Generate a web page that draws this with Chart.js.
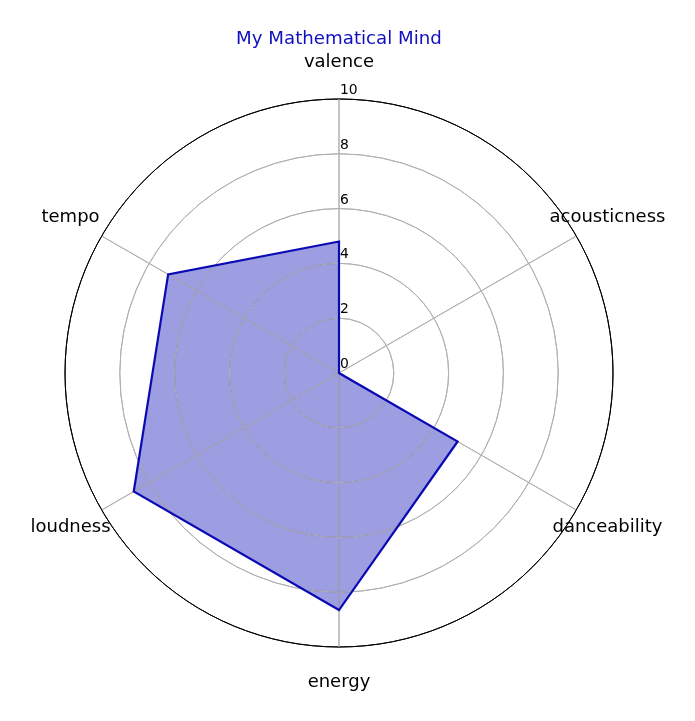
<!DOCTYPE html>
<html>
<head>
<meta charset="utf-8">
<script src="https://cdn.jsdelivr.net/npm/chart.js@4/dist/chart.umd.min.js"></script>
<style>
  html, body { margin: 0; padding: 0; background: #ffffff; }
  #wrap { width: 695px; height: 721px; position: relative; }
</style>
</head>
<body>
<div id="wrap"><canvas id="c"></canvas></div>
<script>
const chartTitle = 'My Mathematical Mind';
const categories = ['valence', 'acousticness', 'danceability', 'energy', 'loudness', 'tempo'];
const mindValues = [4.8, 0.0, 5.0, 8.65, 8.65, 7.2];
const tickValues = [0, 2, 4, 6, 8, 10];

const FONT = "'DejaVu Sans', sans-serif";
const LINE_COLOR = '#0a0ab4';
const FILL_COLOR = 'rgba(10,10,180,0.40)';

const labelsPlugin = {
  id: 'mplLabels',
  beforeDatasetDraw(chart, args) {
    // grid sits above the fill but below the outline (matplotlib zorder)
    if (args.index === 1) {
      const r = chart.scales.r;
      const ctx = chart.ctx;
      ctx.save();
      r.drawGrid();
      ctx.restore();
    }
  },
  afterDraw(chart) {
    const r = chart.scales.r;
    const ctx = chart.ctx;
    ctx.save();
    // radial tick labels
    ctx.font = '13.9px ' + FONT;
    ctx.fillStyle = '#000000';
    ctx.textAlign = 'left';
    ctx.textBaseline = 'alphabetic';
    tickValues.forEach(v => {
      const d = r.getDistanceFromCenterForValue(v);
      ctx.fillText(String(v), r.xCenter + 1, r.yCenter - d - 5);
    });
    // category labels
    ctx.font = '18px ' + FONT;
    ctx.textAlign = 'center';
    ctx.textBaseline = 'middle';
    const dist = r.drawingArea * 310 / 274;
    categories.forEach((c, i) => {
      const p = r.getPointPosition(i, dist);
      ctx.fillText(c, p.x, p.y - 1);
    });
    ctx.restore();
  }
};

new Chart(document.getElementById('c'), {
  type: 'radar',
  data: {
    labels: categories,
    datasets: [
      {
        data: mindValues,
        fill: true,
        backgroundColor: FILL_COLOR,
        borderWidth: 0,
        borderColor: 'rgba(0,0,0,0)',
        pointRadius: 0,
        order: 2
      },
      {
        data: mindValues,
        fill: false,
        backgroundColor: 'rgba(0,0,0,0)',
        borderColor: LINE_COLOR,
        borderWidth: 2.2,
        pointRadius: 0,
        order: 1
      }
    ]
  },
  options: {
    responsive: true,
    maintainAspectRatio: false,
    animation: false,
    layout: { padding: { left: 65, right: 82, top: 17, bottom: 74 } },
    plugins: {
      legend: { display: false },
      tooltip: { enabled: false },
      title: {
        display: true,
        text: chartTitle,
        color: '#1010c0',
        font: { family: FONT, size: 18.2, weight: 'normal' },
        padding: { top: 11, bottom: 49.16 }
      }
    },
    scales: {
      r: {
        min: 0,
        max: 10,
        ticks: { display: false, stepSize: 2 },
        pointLabels: { display: false },
        grid: {
          circular: true,
          lineWidth: 1,
          color: (ctx) => ctx.index === tickValues.length - 1 ? '#000000' : '#b0b0b0'
        },
        angleLines: { color: '#b0b0b0', lineWidth: 1 }
      }
    }
  },
  plugins: [labelsPlugin]
});
</script>
</body>
</html>
